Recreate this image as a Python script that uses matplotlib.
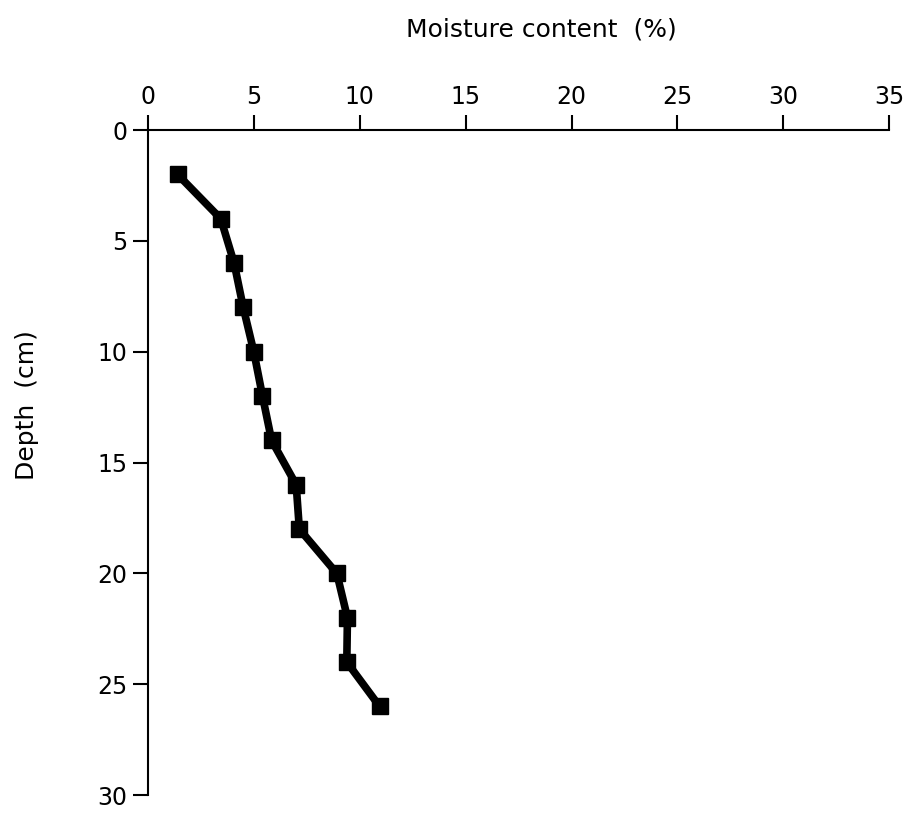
import matplotlib
matplotlib.use("Agg")
import matplotlib.pyplot as plt

depth = [2, 4, 6, 8, 10, 12, 14, 16, 18, 20, 22, 24, 26]
moisture = [1.4, 3.44, 4.07, 4.5, 5.0, 5.41, 5.84, 7.0, 7.15, 8.92, 9.42, 9.39, 10.94]
x_ticks = [0, 5, 10, 15, 20, 25, 30, 35]
y_ticks = [0, 5, 10, 15, 20, 25, 30]

plt.rcParams['font.family'] = ['DejaVu Sans']
fig = plt.figure(figsize=(9.13, 8.13), dpi=100)
ax = fig.add_axes([0.162, 0.022, 0.812, 0.818])

ax.plot(moisture, depth, color='black', linewidth=5.5, marker='s',
        markersize=11, markerfacecolor='black', markeredgecolor='black',
        solid_joinstyle='round', zorder=3)

ax.set_xlim(0, 35)
ax.set_ylim(30, 0)
ax.set_xticks(x_ticks)
ax.set_yticks(y_ticks)
ax.xaxis.tick_top()
for s in ['right', 'bottom']:
    ax.spines[s].set_visible(False)
for s in ['top', 'left']:
    ax.spines[s].set_linewidth(1.5)
ax.tick_params(axis='both', direction='out', length=11, width=1.5,
               labelsize=17, pad=4)
ax.tick_params(axis='x', top=True, bottom=False, labeltop=True, labelbottom=False)

fig.text(541 / 913, 1 - 30 / 813, 'Moisture content  (%)', ha='center', va='center',
         fontsize=18)
fig.text(27 / 913, 1 - 405 / 813, 'Depth  (cm)', ha='center', va='center',
         rotation=90, fontsize=18)

fig.savefig('out.png', dpi=100)
